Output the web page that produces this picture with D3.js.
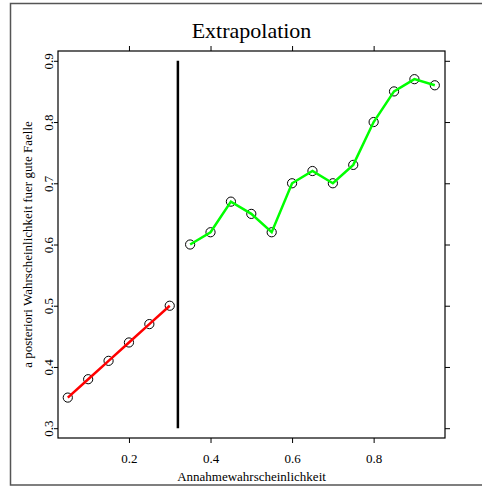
<!DOCTYPE html>
<html>
<head>
<meta charset="utf-8">
<script src="https://cdn.jsdelivr.net/npm/d3@7"></script>
<style>
  body { margin: 0; background: #fff; }
  svg { display: block; font-family: "Liberation Serif", "DejaVu Serif", serif; }
</style>
</head>
<body>
<div id="chart"></div>
<script>
// left segment (red) and right segment (green)
const redX = [0.05, 0.10, 0.15, 0.20, 0.25, 0.30];
const redY = [0.35, 0.38, 0.41, 0.44, 0.47, 0.50];
const greenX = [0.35, 0.40, 0.45, 0.50, 0.55, 0.60, 0.65, 0.70, 0.75, 0.80, 0.85, 0.90, 0.95];
const greenY = [0.60, 0.62, 0.67, 0.65, 0.62, 0.70, 0.72, 0.70, 0.73, 0.80, 0.85, 0.87, 0.86];
const cutX = 0.32;
const cutY = [0.3, 0.9];
const xTicks = [0.2, 0.4, 0.6, 0.8];
const yTicks = [0.3, 0.4, 0.5, 0.6, 0.7, 0.8, 0.9];

const width = 482;
const height = 486;
const panel = { left: 58, top: 51, right: 445, bottom: 438 };

const x = d3.scaleLinear().domain([0.026, 0.975]).range([panel.left, panel.right]);
const y = d3.scaleLinear().domain([0.284, 0.916]).range([panel.bottom, panel.top]);

const svg = d3.select("#chart")
  .append("svg")
  .attr("width", width)
  .attr("height", height);

// outer frame
svg.append("rect")
  .attr("x", 10.5)
  .attr("y", 3.5)
  .attr("width", 500)
  .attr("height", 481.5)
  .attr("fill", "none")
  .attr("stroke", "#555")
  .attr("stroke-width", 1.5);

svg.append("text")
  .attr("x", 251.5)
  .attr("y", 38)
  .attr("text-anchor", "middle")
  .attr("font-size", 22)
  .text("Extrapolation");

// axes
const bottomAxis = d3.axisBottom(x).tickValues(xTicks).tickSize(5).tickPadding(11).tickFormat(d3.format(".1f"));
const topAxis = d3.axisTop(x).tickValues(xTicks).tickSize(5).tickFormat("");
const leftAxis = d3.axisLeft(y).tickValues(yTicks).tickSize(4).tickFormat(d3.format(".1f"));
const rightAxis = d3.axisRight(y).tickValues(yTicks).tickSize(5).tickFormat("");

const gB = svg.append("g").attr("transform", `translate(0,${panel.bottom})`).call(bottomAxis);
const gT = svg.append("g").attr("transform", `translate(0,${panel.top})`).call(topAxis);
const gL = svg.append("g").attr("transform", `translate(${panel.left},0)`).call(leftAxis);
const gR = svg.append("g").attr("transform", `translate(${panel.right},0)`).call(rightAxis);

[gB, gT, gL, gR].forEach(g => {
  g.attr("font-family", null).attr("font-size", 13);
  g.select(".domain").remove();
  g.selectAll("line").attr("stroke", "#000");
  g.selectAll("text").attr("fill", "#000");
});

gL.selectAll("text")
  .attr("transform", "rotate(-90)")
  .attr("x", 0)
  .attr("y", -5)
  .attr("dy", 0)
  .attr("text-anchor", "middle");

// panel box
svg.append("rect")
  .attr("x", panel.left)
  .attr("y", panel.top)
  .attr("width", panel.right - panel.left)
  .attr("height", panel.bottom - panel.top)
  .attr("fill", "none")
  .attr("stroke", "#000")
  .attr("stroke-width", 1.2);

svg.append("text")
  .attr("x", 251.5)
  .attr("y", 481)
  .attr("text-anchor", "middle")
  .attr("font-size", 13)
  .text("Annahmewahrscheinlichkeit");

svg.append("text")
  .attr("transform", `translate(32,${(panel.top + panel.bottom) / 2}) rotate(-90)`)
  .attr("text-anchor", "middle")
  .attr("font-size", 13)
  .text("a posteriori Wahrscheinlichkeit fuer gute Faelle");

const line = d3.line().x(d => x(d[0])).y(d => y(d[1]));

const drawSeries = (xs, ys, color) => {
  const pts = xs.map((v, i) => [v, ys[i]]);
  svg.append("g").selectAll("circle")
    .data(pts)
    .enter()
    .append("circle")
    .attr("cx", d => x(d[0]))
    .attr("cy", d => y(d[1]))
    .attr("r", 4.6)
    .attr("fill", "none")
    .attr("stroke", "#000")
    .attr("stroke-width", 1);
  svg.append("path")
    .datum(pts)
    .attr("d", line)
    .attr("fill", "none")
    .attr("stroke", color)
    .attr("stroke-width", 2.5);
};

drawSeries(redX, redY, "#ff0000");
drawSeries(greenX, greenY, "#00ff00");

svg.append("path")
  .datum(cutY.map(v => [cutX, v]))
  .attr("d", line)
  .attr("stroke", "#000")
  .attr("stroke-width", 2.5);
</script>
</body>
</html>
